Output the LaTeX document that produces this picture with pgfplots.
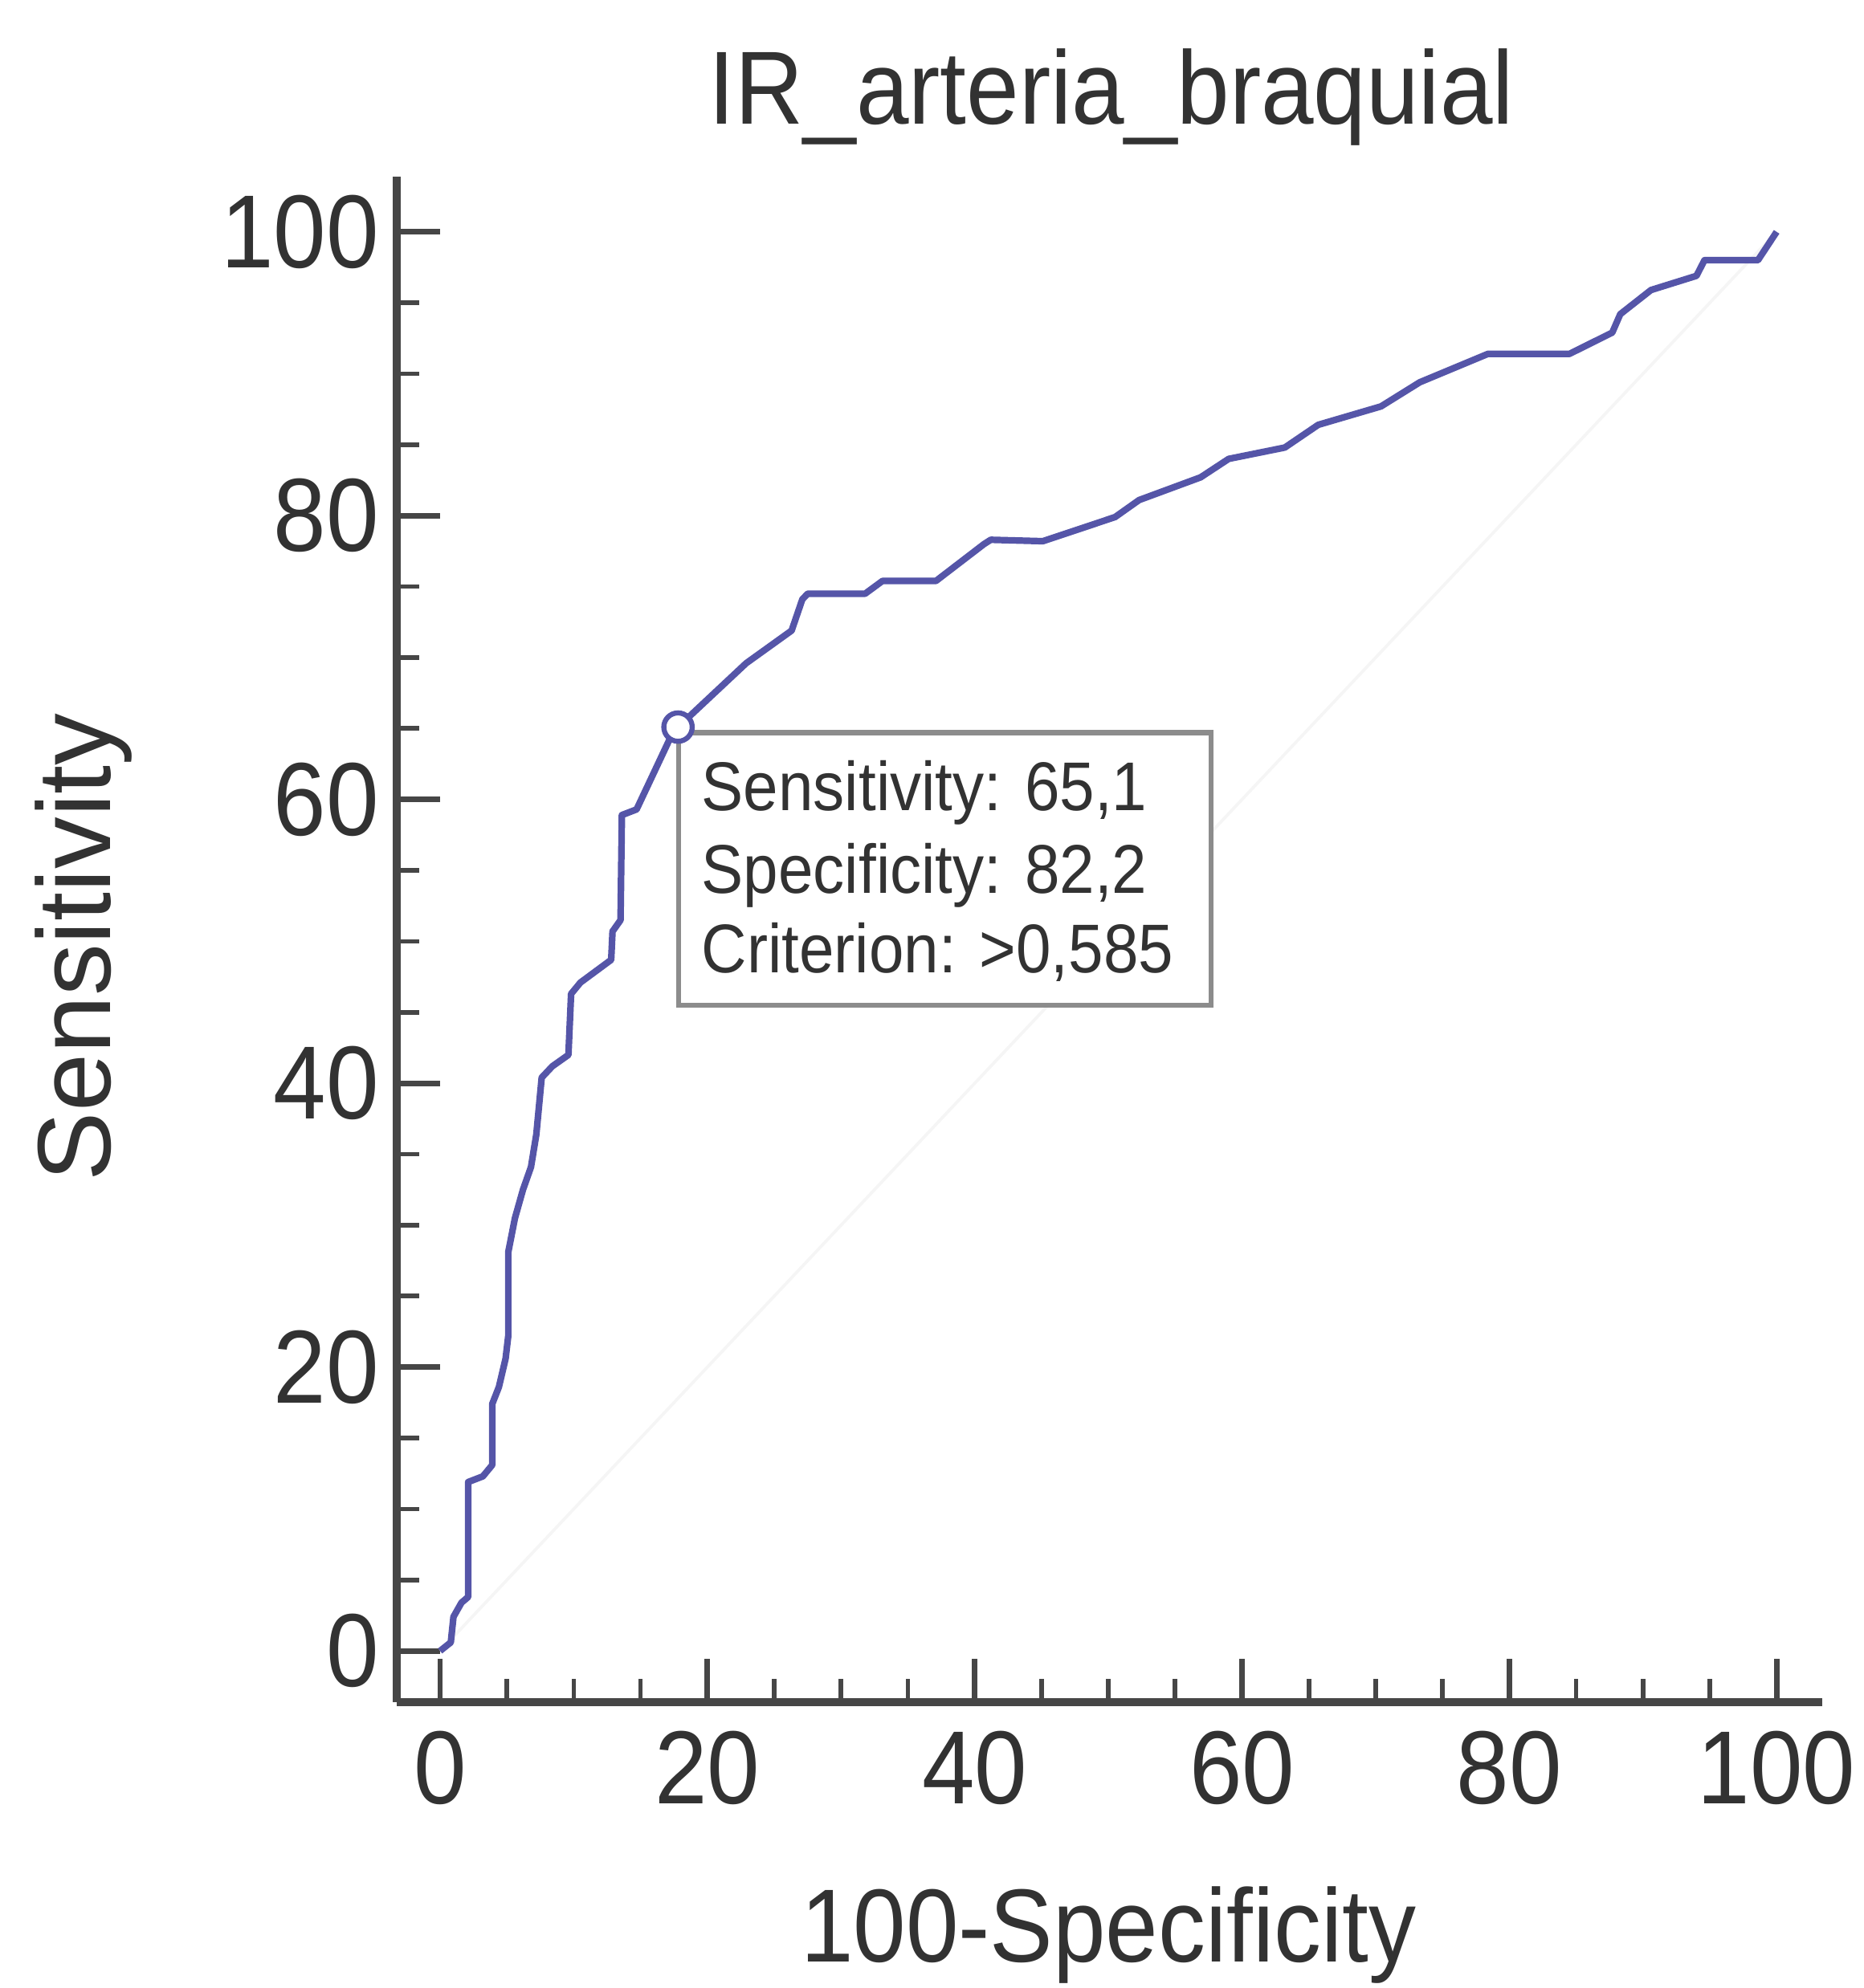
\documentclass[border=0pt]{standalone}
\usepackage{pgfplots}
\pgfplotsset{compat=1.18}
\usepackage{fontspec}
\setmainfont{Liberation Sans}[FakeStretch=0.91]
\newfontfamily\ylabfont{Liberation Sans}
\definecolor{roc}{RGB}{85,85,168}
\definecolor{axgray}{RGB}{70,70,70}
\definecolor{txtgray}{RGB}{50,50,50}
\definecolor{boxgray}{RGB}{140,140,140}

\begin{document}
\begin{tikzpicture}
\useasboundingbox (-78.2pt,-56.4pt) rectangle (289.2pt,335.6pt);
\begin{axis}[
  at={(0,0)}, anchor=south west,
  scale only axis, width=281pt, height=300.8pt,
  xmin=-3.25, xmax=103.4, ymin=-3.6, ymax=103.9,
  axis x line*=bottom, axis y line*=left,
  axis line style={-, draw=axgray, line width=1.5pt},
  xtick={0,20,...,100}, ytick={0,20,...,100},
  minor tick num=3,
  tick align=inside,
  major tick length=8.5pt, minor tick length=4.5pt,
  major tick style={draw=axgray, line width=1.1pt},
  minor tick style={draw=axgray, line width=0.9pt},
  /pgf/number format/assume math mode=true,
  tick label style={font=\fontsize{20.5}{24}\selectfont, text=txtgray},
  xticklabel style={yshift=-2.2pt},
  title={IR\_arteria\_braquial},
  every axis title/.style={at={(axis description cs:0.5014,1.0342)}, anchor=base,
               font=\fontsize{20.5}{24}\selectfont, text=txtgray},
  xlabel={100-Specificity},
  xlabel style={at={(axis description cs:0.4993,-0.1705)}, anchor=base,
               font=\fontsize{20.5}{24}\selectfont, text=txtgray},
  ylabel={Sensitivity},
  ylabel style={at={(axis description cs:-0.2007,0.4947)}, anchor=base,
               font=\ylabfont\fontsize{20.5}{24}\selectfont, text=txtgray},
  clip=false,
]
% faint reference diagonal
\addplot[black!4, line width=0.6pt] coordinates {(0,0) (100,100)};
% ROC curve
\addplot[roc, line width=1.3pt, line join=round] coordinates {
(0,0) (0.8,0.6) (1.0,2.4) (1.6,3.4) (2.1,3.8) (2.1,11.9) (3.2,12.3) (3.9,13.1)
(3.9,17.4) (4.4,18.6) (4.9,20.6) (5.1,22.2) (5.1,28.1) (5.6,30.5) (6.2,32.5)
(6.8,34.1) (7.2,36.4) (7.6,40.4) (8.4,41.2) (9.6,42.0) (9.8,46.3) (10.5,47.1)
(12.8,48.7) (12.9,50.7) (13.5,51.5) (13.6,58.9) (14.7,59.3) (17.4,64.7)
(17.8,65.1) (22.9,69.6) (26.3,71.9) (27.1,74.1) (27.5,74.5) (31.8,74.5)
(33.1,75.4) (37.1,75.4) (40.7,78.0) (41.2,78.3) (45.1,78.2) (50.5,79.9)
(52.3,81.1) (56.9,82.7) (59.0,84.0) (63.2,84.8) (65.7,86.4) (70.4,87.7)
(73.3,89.4) (78.4,91.4) (84.5,91.4) (87.7,92.9) (88.3,94.2) (90.6,95.9)
(94.0,96.9) (94.6,98.0) (98.6,98.0) (100,100)
};
% annotation box
\draw[boxgray, line width=1pt, fill=white] (axis cs:17.85,45.5) rectangle (axis cs:57.7,64.7);
% criterion point
\addplot[only marks, mark=*, mark size=2.8pt, mark options={draw=roc, fill=white, line width=1pt}] coordinates {(17.8,65.1)};
\node[anchor=base west, inner sep=0, text=txtgray, font=\fontsize{13.6}{16}\selectfont] at (axis cs:19.5,59.2) {Sensitivity: 65,1};
\node[anchor=base west, inner sep=0, text=txtgray, font=\fontsize{13.6}{16}\selectfont] at (axis cs:19.5,53.4) {Specificity: 82,2};
\node[anchor=base west, inner sep=0, text=txtgray, font=\fontsize{13.6}{16}\selectfont] at (axis cs:19.5,47.8) {Criterion: >0,585};
\end{axis}
\end{tikzpicture}
\end{document}
